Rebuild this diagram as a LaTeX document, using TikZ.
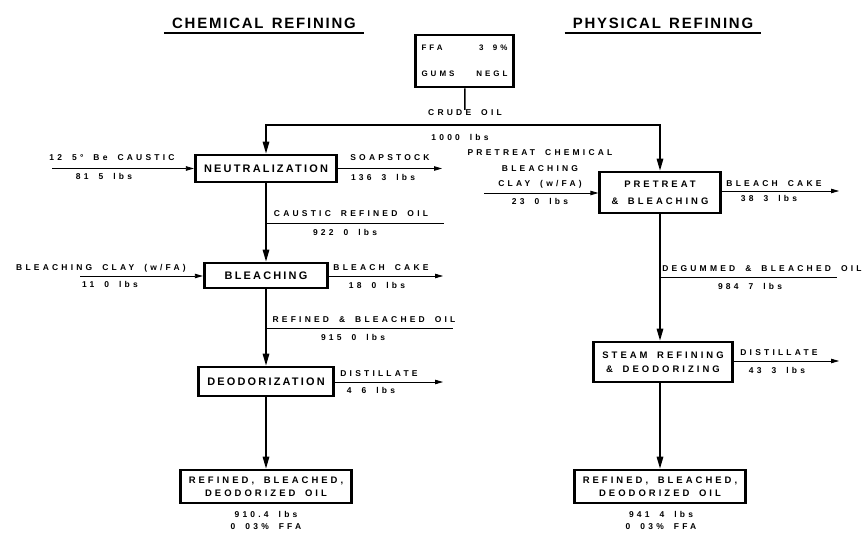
\documentclass[tikz,border=0pt]{standalone}
\usepackage{fontspec}
\setmainfont{Liberation Sans}
\newfontfamily\unitfont{Liberation Sans}[LetterSpace=20,WordSpace=1.6]
\newfontfamily\roomyfont{Liberation Sans}[LetterSpace=32,WordSpace=1.7]
\newfontfamily\widefont{Liberation Sans}[LetterSpace=38,WordSpace=1.8]
\newfontfamily\headfont{Liberation Sans}[LetterSpace=12,WordSpace=1.4]
\usetikzlibrary{arrows.meta,positioning}

\begin{document}
\begin{tikzpicture}[x=1bp,y=-1bp,
  unit/.style={draw,line width=2.8pt,inner sep=0pt,align=center,
    font=\unitfont\bfseries\fontsize{11}{13}\selectfont},
  wideunit/.style={unit,font=\roomyfont\bfseries\fontsize{9.5}{13}\selectfont},
  lab/.style={inner sep=0pt,font=\widefont\bfseries\fontsize{8.5}{15.5}\selectfont},
  head/.style={inner xsep=8bp,inner ysep=5bp,text depth=0pt,
    font=\headfont\bfseries\fontsize{15}{18}\selectfont},
  flow/.style={line width=1.5pt,-{Triangle[length=12pt,width=6.5pt]}},
  feed/.style={line width=0.8pt,-{Triangle[length=8pt,width=4.5pt]}},
  tap/.style={line width=0.8pt}]
  \useasboundingbox (0,0) rectangle (864,534);

  % headings
  \node[head] (chem) at (264,23) {CHEMICAL REFINING};
  \node[head] (phys) at (663,23) {PHYSICAL REFINING};
  \draw[line width=2pt] (chem.south west) -- (chem.south east);
  \draw[line width=2pt] (phys.south west) -- (phys.south east);

  % crude oil
  \node[unit,font=\widefont\bfseries\fontsize{8}{10}\selectfont,minimum width=99,minimum height=52] (ffa) at (464.5,61)
    {\makebox[86bp]{FFA\hfill 3 9\%}\\[16bp]\makebox[86bp]{GUMS\hfill NEGL}};
  \node[lab] (crude) at (465,113) {CRUDE OIL};
  \node[lab] (crudeq) at (460,137) {1000 lbs};
  \coordinate (split) at (465,125);
  \draw[line width=1.5pt] (ffa) -- (crude);

  % units
  \node[unit,minimum width=142,minimum height=27] (neut) at (266,168.5) {NEUTRALIZATION};
  \node[unit,minimum width=124,minimum height=25] (bleach) at (266,275.5) {BLEACHING};
  \node[unit,minimum width=136,minimum height=29] (deod) at (266,381.5) {DEODORIZATION};
  \node[wideunit,minimum width=172,minimum height=33] (rbd1) at (266,486.5) {REFINED, BLEACHED,\\DEODORIZED OIL};
  \node[wideunit,minimum width=121,minimum height=41] (pre) at (660,192.5) {PRETREAT\\[4bp]\& BLEACHING};
  \node[wideunit,minimum width=140,minimum height=40] (steam) at (663,362) {STEAM REFINING\\[1bp]\& DEODORIZING};
  \node[wideunit,minimum width=172,minimum height=33] (rbd2) at (660,486.5) {REFINED, BLEACHED,\\DEODORIZED OIL};

  % main flows
  \draw[flow] (split) -| (neut.north);
  \draw[flow] (split) -| (pre.north);
  \draw[flow] (neut) -- (bleach);
  \draw[flow] (bleach) -- (deod);
  \draw[flow] (deod) -- (rbd1);
  \draw[flow] (pre) -- (pre |- steam.north);
  \draw[flow] (rbd2 |- steam.south) -- (rbd2);

  % chemical refining streams
  \coordinate (causin) at (52,168.5);
  \draw[feed] (causin) -- (neut.west);
  \node[lab] (caus) at (112,158) {12 5° Be CAUSTIC};
  \node[lab] (causq) at (104,176) {81 5 lbs};
  \coordinate (soapout) at (442,168.5);
  \draw[feed] (neut.east) -- (soapout);
  \node[lab] (soap) at (390,158) {SOAPSTOCK};
  \node[lab] (soapq) at (383,177) {136 3 lbs};
  \coordinate (cro) at (266,223);
  \coordinate (croend) at (444,223);
  \draw[tap] (cro) -- (croend);
  \node[lab] (crol) at (351,214) {CAUSTIC REFINED OIL};
  \node[lab] (croq) at (345,232) {922 0 lbs};
  \coordinate (clayin) at (80,276);
  \draw[feed] (clayin) -- (bleach.west |- clayin);
  \node[lab] (clay) at (101,268) {BLEACHING CLAY (w/FA)};
  \node[lab] (clayq) at (110,284) {11 0 lbs};
  \coordinate (cakeout) at (443,276);
  \draw[feed] (bleach.east |- cakeout) -- (cakeout);
  \node[lab] (cake) at (381,268) {BLEACH CAKE};
  \node[lab] (cakeq) at (377,285) {18 0 lbs};
  \coordinate (rbo) at (266,328);
  \coordinate (rboend) at (453,328);
  \draw[tap] (rbo) -- (rboend);
  \node[lab] (rbol) at (364,320) {REFINED \& BLEACHED OIL};
  \node[lab] (rboq) at (353,337) {915 0 lbs};
  \coordinate (distout) at (443,382);
  \draw[feed] (deod.east |- distout) -- (distout);
  \node[lab] (dist) at (379,374) {DISTILLATE};
  \node[lab] (distq) at (371,390) {4 6 lbs};
  \node[lab] (yield1) at (266,514) {910.4 lbs};
  \node[lab] (ffa1) at (266,527) {0 03\% FFA};

  % physical refining streams
  \coordinate (pcin) at (484,193);
  \draw[feed] (pcin) -- (pre.west |- pcin);
  \node[lab,align=center] (pcl) at (540,169) {PRETREAT CHEMICAL\\BLEACHING\\CLAY (w/FA)};
  \node[lab] (pcq) at (540,201) {23 0 lbs};
  \coordinate (pcake) at (839,191);
  \draw[feed] (pre.east |- pcake) -- (pcake);
  \node[lab] (pcakel) at (774,184) {BLEACH CAKE};
  \node[lab] (pcakeq) at (769,198) {38 3 lbs};
  \coordinate (dbo) at (660,277);
  \coordinate (dboend) at (837,277);
  \draw[tap] (dbo) -- (dboend);
  \node[lab] (dbol) at (762,269) {DEGUMMED \& BLEACHED OIL};
  \node[lab] (dboq) at (750,286) {984 7 lbs};
  \coordinate (pdist) at (839,361);
  \draw[feed] (steam.east |- pdist) -- (pdist);
  \node[lab] (pdistl) at (779,353) {DISTILLATE};
  \node[lab] (pdistq) at (777,370) {43 3 lbs};
  \node[lab] (yield2) at (661,514) {941 4 lbs};
  \node[lab] (ffa2) at (661,527) {0 03\% FFA};
\end{tikzpicture}
\end{document}
